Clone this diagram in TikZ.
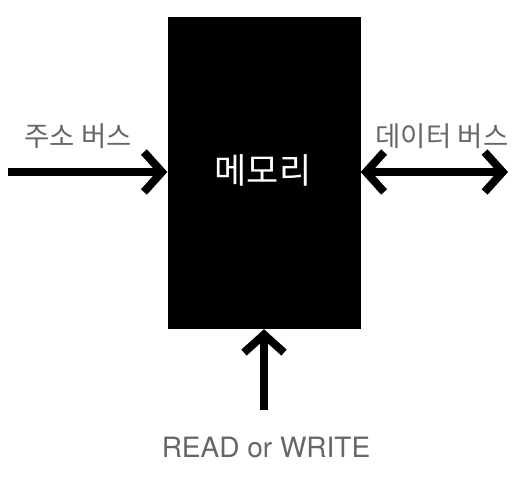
\documentclass[tikz,border=0pt]{standalone}
\usepackage{fontspec}
\newfontfamily\krfont{Noto Sans CJK KR}
\newfontfamily\latfont{TeX Gyre Heros}
\usetikzlibrary{arrows.meta}

\tikzset{
  bushead/.tip={Straight Barb[length=18pt,width=40pt,line width=8pt]},
  busarrow/.style={line width=8pt, -bushead},
  buslabel/.style={text=black!60, font=\krfont\fontsize{27.5}{27.5}\selectfont, inner sep=0pt},
}

\begin{document}
\begin{tikzpicture}[x=1pt,y=-1pt]
  %
  \useasboundingbox (0,0) rectangle (526,480);
  %
  \node[fill=black, minimum width=193pt, minimum height=312pt, inner sep=0pt] (mem) at (264,173) {};
  \node[text=white, font=\krfont\fontsize{35}{35}\selectfont, inner sep=0pt] (memlabel) at (263,170) {메모리};
  %
  \coordinate (addrstart) at (8,172);
  \coordinate (addrend) at (mem.west |- addrstart);
  \coordinate (datastart) at (mem.east |- addrstart);
  \coordinate (dataend) at (508,172);
  \coordinate (rwstart) at (264,410);
  \coordinate (rwend) at (mem.south -| rwstart);
  %
  \draw[busarrow] (addrstart) -- (addrend);
  \draw[busarrow, bushead-bushead] (datastart) -- (dataend);
  \draw[busarrow] (rwstart) -- (rwend);
  %
  \node[buslabel] (addr) at (78,136) {주소 버스};
  \node[buslabel] (data) at (442,136) {데이터 버스};
  \node[buslabel, font=\latfont\fontsize{28}{28}\selectfont] (rw) at (266,447) {READ or WRITE};
\end{tikzpicture}
\end{document}
